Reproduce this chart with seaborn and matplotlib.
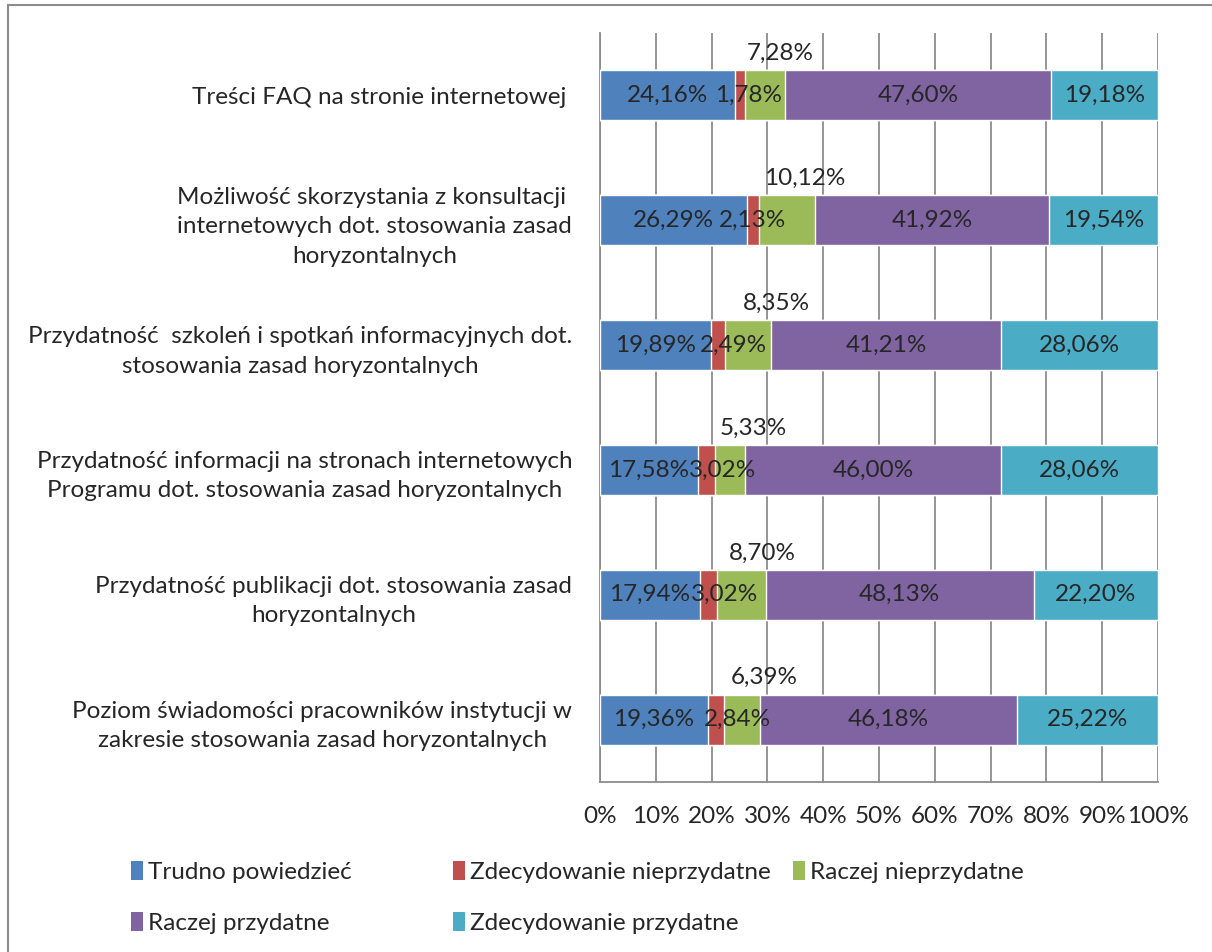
import numpy as np
import matplotlib
matplotlib.use("Agg")
import matplotlib.pyplot as plt
from matplotlib.patches import Patch, Rectangle
from matplotlib.ticker import FixedLocator
import seaborn as sns

categories = [
    "Treści FAQ na stronie internetowej ",
    "Możliwość skorzystania z konsultacji \ninternetowych dot. stosowania zasad\nhoryzontalnych",
    "Przydatność  szkoleń i spotkań informacyjnych dot.\nstosowania zasad horyzontalnych",
    "Przydatność informacji na stronach internetowych\nProgramu dot. stosowania zasad horyzontalnych",
    "Przydatność publikacji dot. stosowania zasad\nhoryzontalnych",
    "Poziom świadomości pracowników instytucji w\nzakresie stosowania zasad horyzontalnych",
]
series_names = ["Trudno powiedzieć", "Zdecydowanie nieprzydatne", "Raczej nieprzydatne",
                "Raczej przydatne", "Zdecydowanie przydatne"]
trudno = [24.16, 26.29, 19.89, 17.58, 17.94, 19.36]
zdec_nieprzyd = [1.78, 2.13, 2.49, 3.02, 3.02, 2.84]
raczej_nieprzyd = [7.28, 10.12, 8.35, 5.33, 8.70, 6.39]
raczej_przyd = [47.60, 41.92, 41.21, 46.00, 48.13, 46.18]
zdec_przyd = [19.18, 19.54, 28.06, 28.06, 22.20, 25.22]
colors = ["#4F81BD", "#C0504D", "#9BBB59", "#8064A2", "#4BACC6"]

# label nudges (x, in % units) for the small red and green segments, as placed in the original
red_nudge = [1.5, 0.0, 2.7, 2.9, 2.9, 3.8]
green_nudge = [2.7, 3.2, 5.0, 4.2, 3.7, 4.1]

sns.set_style("white")
plt.rcParams["font.family"] = ["Lato", "DejaVu Sans"]
fs = 17.5

vals = np.array([trudno, zdec_nieprzyd, raczej_nieprzyd, raczej_przyd, zdec_przyd])
cum = np.cumsum(vals, axis=0)

fig = plt.figure(figsize=(12.12, 9.52), dpi=100)
ax = fig.add_axes([600 / 1212, 1 - 782 / 952, 558 / 1212, 749 / 952])

# stacked bars: draw cumulative totals from the widest down
for i in reversed(range(5)):
    sns.barplot(x=cum[i], y=categories, color=colors[i], width=0.4, orient="h",
                saturation=1, ax=ax, zorder=3)

# data labels
for r in range(len(categories)):
    for i in range(5):
        v = vals[i][r]
        mid = cum[i][r] - v / 2
        txt = f"{v:.2f}%".replace(".", ",")
        if i == 2:
            ax.text(mid + green_nudge[r], r - 0.335, txt, ha="center", va="center", fontsize=fs, zorder=5)
        elif i == 1:
            ax.text(mid + red_nudge[r], r, txt, ha="center", va="center", fontsize=fs, zorder=5)
        else:
            ax.text(mid, r, txt, ha="center", va="center", fontsize=fs, zorder=5)

ax.set_xlim(0, 100)
ax.set_ylim(5.5, -0.5)
ax.set_xticks(np.arange(0, 101, 10))
ax.set_xticklabels([f"{t}%" for t in range(0, 101, 10)], fontsize=fs)
ax.xaxis.grid(True, color="#8c8c8c", linewidth=1.3, zorder=0)
ax.set_axisbelow(True)
ax.set_xlabel("")
ax.set_ylabel("")
for s in ["top", "right"]:
    ax.spines[s].set_visible(False)
for s in ["left", "bottom"]:
    ax.spines[s].set_color("#8c8c8c")
    ax.spines[s].set_linewidth(1.3)
ax.tick_params(axis="x", length=6, width=1.3, color="#8c8c8c", pad=11, direction="out")
ax.tick_params(axis="y", which="major", length=0, pad=20, labelsize=fs)
ax.yaxis.set_minor_locator(FixedLocator(np.arange(-0.5, 6, 1)))
ax.tick_params(axis="y", which="minor", length=7, width=1.3, color="#8c8c8c", direction="out")
for lbl in ax.get_yticklabels():
    lbl.set_multialignment("center")
    lbl.set_linespacing(1.5)

# legend laid out in rows like the original
handles = [Patch(facecolor=c, edgecolor="none") for c in colors]
cols = [[0, 3], [1, 4], [2]]
xs = [131 / 1212, 453 / 1212, 793 / 1212]
for col, x in zip(cols, xs):
    fig.legend([handles[k] for k in col], [series_names[k] for k in col],
               loc="upper left", bbox_to_anchor=(x, 1 - 861 / 952), frameon=False,
               fontsize=fs, handlelength=0.5, handleheight=0.8, handletextpad=0.2,
               labelspacing=1.2, borderpad=0, borderaxespad=0)

fig.patches.append(Rectangle((8 / 1212, -0.01), 1.0, 1 - 5 / 952 + 0.01, transform=fig.transFigure,
                             fill=False, edgecolor="#8c8c8c", linewidth=1.5))

fig.savefig("out.png", dpi=100)
